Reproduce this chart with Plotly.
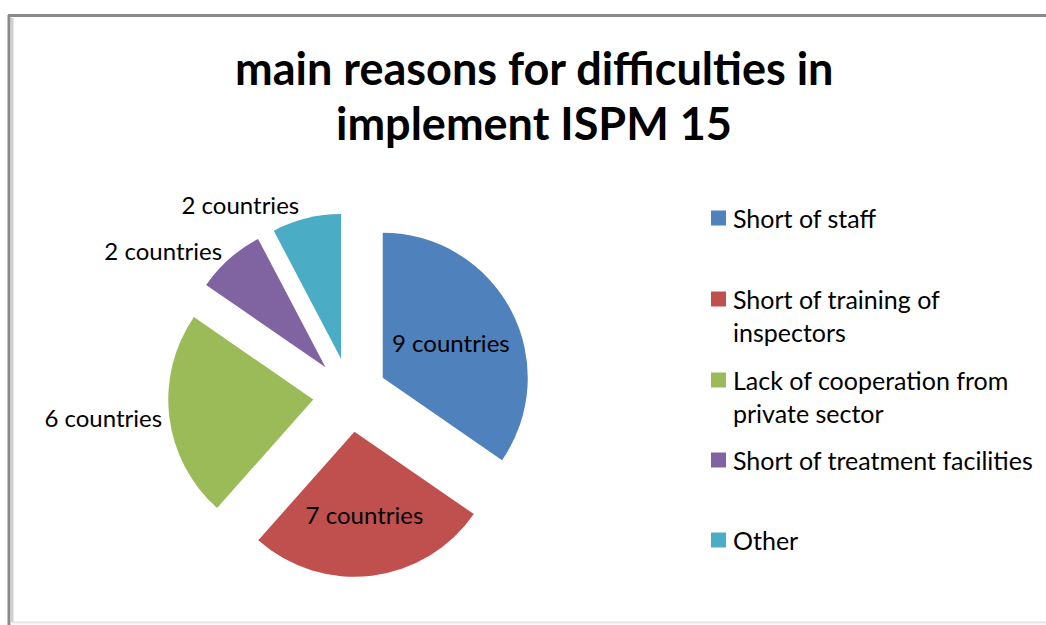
import plotly.graph_objects as go

W, H = 1046, 625

categories = ["Short of staff", "Short of training of inspectors",
              "Lack of cooperation from private sector",
              "Short of treatment facilities", "Other"]
legend_labels = ["Short of staff", "Short of training of<br>inspectors",
                 "Lack of cooperation from<br>private sector",
                 "Short of treatment facilities", "Other"]
values = [9, 7, 6, 2, 2]
colors = ["#4F81BD", "#C0504D", "#9BBB59", "#8064A2", "#4BACC6"]
text_positions = ["inside", "inside", "outside", "outside", "outside"]
title_lines = ["main reasons for difficulties in", "implement ISPM 15"]

FONT = "Lato"
TXT = 24
LEG = 25


def px(x):
    return x / W


def py(y):
    return 1 - y / H


cx, cy, half = 350, 395, 182

fig = go.Figure()
fig.add_trace(go.Pie(
    labels=categories,
    values=values,
    marker=dict(colors=colors, line=dict(width=0)),
    sort=False,
    direction="clockwise",
    rotation=0,
    pull=[0.255] * len(values),
    texttemplate="%{value} countries",
    textposition=text_positions,
    insidetextorientation="horizontal",
    textfont=dict(family=FONT, size=TXT, color="black"),
    domain=dict(x=[px(cx - half), px(cx + half)], y=[py(cy + half), py(cy - half)]),
    showlegend=False,
    hoverinfo="label+value",
))

annotations = []
shapes = []
# title
title_y = [68, 123]
for t, y in zip(title_lines, title_y):
    annotations.append(dict(text=f"<b>{t}</b>", x=px(534), y=py(y), xref="paper", yref="paper",
                            showarrow=False, xanchor="center", yanchor="middle",
                            font=dict(family=FONT, size=45, color="black")))

# legend
leg_y = [218, 299, 380, 460, 540]
for lab, col, y in zip(legend_labels, colors, leg_y):
    shapes.append(dict(type="rect", xref="paper", yref="paper",
                       x0=px(711), x1=px(726), y0=py(y - 7.5), y1=py(y + 7.5),
                       fillcolor=col, line=dict(width=0)))
    annotations.append(dict(text=lab, x=px(731), y=py(y - 17), xref="paper", yref="paper",
                            showarrow=False, xanchor="left", yanchor="top", align="left",
                            font=dict(family=FONT, size=LEG, color="black")))

# frame
shapes.append(dict(type="line", xref="paper", yref="paper", x0=px(8), x1=px(1046), y0=py(15.5), y1=py(15.5),
                   line=dict(color="#8a8a8a", width=3)))
shapes.append(dict(type="line", xref="paper", yref="paper", x0=px(9), x1=px(9), y0=py(15), y1=py(625),
                   line=dict(color="#8a8a8a", width=3)))
shapes.append(dict(type="line", xref="paper", yref="paper", x0=px(12), x1=px(1046), y0=py(622.5), y1=py(622.5),
                   line=dict(color="#e6e6e6", width=2)))
shapes.append(dict(type="line", xref="paper", yref="paper", x0=px(12), x1=px(12), y0=py(18), y1=py(622),
                   line=dict(color="#d0d0d0", width=3)))

fig.update_layout(
    width=W, height=H,
    margin=dict(l=0, r=0, t=0, b=0, autoexpand=False),
    paper_bgcolor="white", plot_bgcolor="white",
    annotations=annotations, shapes=shapes,
    font=dict(family=FONT, color="black"),
)
fig.write_html("out.html")
